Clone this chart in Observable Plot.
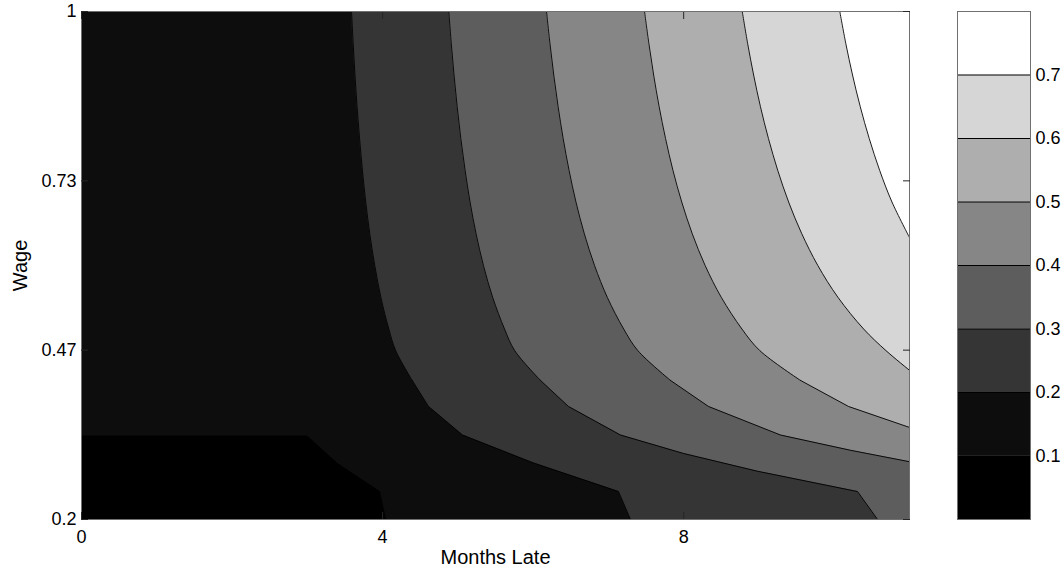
<!DOCTYPE html>
<html><head><meta charset="utf-8">
<script src="https://cdn.jsdelivr.net/npm/d3@7"></script>
<script src="https://cdn.jsdelivr.net/npm/@observablehq/plot@0.6"></script>
<style>
html,body{margin:0;padding:0;background:#fff;}
#wrap{position:relative;width:1062px;height:573px;}
#wrap svg{position:absolute;top:0;}
</style></head><body><div id="wrap"></div>
<script>
// ---- data ----
const xDomain = [0, 11];          // Months Late
const yDomain = [0.2, 1];         // Wage
const xTicks = [0, 4, 8];
const yTicks = [0.2, 0.4667, 0.7333, 1];
const yTickLabels = ["0.2", "0.47", "0.73", "1"];
const levels = [0.1, 0.2, 0.3, 0.4, 0.5, 0.6, 0.7];
const bandEdges = [0, 0.1, 0.2, 0.3, 0.4, 0.5, 0.6, 0.7, 0.8];
const grays = ["#000000", "#0d0d0d", "#353535", "#5d5d5d", "#868686", "#aeaeae", "#d6d6d6", "#ffffff"];

// contour lines, as [months, wage]
const c01 = [[0, 0.331], [3.0, 0.331], [3.40, 0.288], [3.96, 0.244], [4.04, 0.2]];
const c02 = [[7.294, 0.2], [7.134, 0.244], [6.005, 0.289], [5.062, 0.333], [4.610, 0.378], [4.394, 0.419], [4.174, 0.466],
             [4.083, 0.5], [3.977, 0.55], [3.896, 0.6], [3.830, 0.65], [3.776, 0.7], [3.732, 0.75], [3.694, 0.8],
             [3.661, 0.85], [3.633, 0.9], [3.609, 0.95], [3.587, 1.0]];
const c03 = [[10.576, 0.2], [10.31, 0.244], [8.981, 0.276], [7.998, 0.304], [7.161, 0.333], [6.470, 0.378], [6.098, 0.419],
             [5.755, 0.466], [5.620, 0.5], [5.462, 0.55], [5.340, 0.6], [5.242, 0.65], [5.162, 0.7], [5.096, 0.75],
             [5.039, 0.8], [4.991, 0.85], [4.949, 0.9], [4.912, 0.95], [4.880, 1.0]];
const c04 = [[11.0, 0.291], [10.217, 0.309], [9.287, 0.333], [8.330, 0.378], [7.825, 0.419], [7.391, 0.466],
             [7.203, 0.5], [6.985, 0.55], [6.816, 0.6], [6.680, 0.65], [6.569, 0.7], [6.477, 0.75], [6.399, 0.8],
             [6.332, 0.85], [6.274, 0.9], [6.223, 0.95], [6.178, 1.0]];
const c05 = [[11.0, 0.345], [10.190, 0.378], [9.552, 0.419], [9.011, 0.466], [8.774, 0.5], [8.499, 0.55], [8.285, 0.6],
             [8.114, 0.65], [7.974, 0.7], [7.857, 0.75], [7.759, 0.8], [7.674, 0.85], [7.601, 0.9], [7.537, 0.95], [7.480, 1.0]];
const c06 = [[11.0, 0.435], [10.687, 0.466], [10.391, 0.5], [10.049, 0.55], [9.782, 0.6], [9.569, 0.65], [9.394, 0.7],
             [9.249, 0.75], [9.126, 0.8], [9.020, 0.85], [8.929, 0.9], [8.849, 0.95], [8.778, 1.0]];
const c07 = [[11.0, 0.644], [10.767, 0.7], [10.603, 0.75], [10.465, 0.8], [10.346, 0.85], [10.243, 0.9], [10.153, 0.95], [10.074, 1.0]];
const upperContours = [c02, c03, c04, c05, c06, c07];
const splitWage = 0.419;   // below: coarse straight segments, above: smooth curve

// ---- drawing ----
const font = "'Liberation Sans', Arial, Helvetica, sans-serif";
const axisColor = "#262626";
const frameColor = "#707070";
const lowPart = pts => pts.filter(d => d[1] <= splitWage);
const highPart = pts => pts.filter(d => d[1] >= splitWage);

const bandMarks = [];
const lineMarks = [];
upperContours.forEach((pts, i) => {
  const lo = lowPart(pts), hi = highPart(pts);
  if (lo.length > 1) {
    bandMarks.push(Plot.areaX(lo, {x1: d => d[0], x2: xDomain[1], y: d => d[1], fill: grays[i + 2], curve: "linear", clip: true}));
    lineMarks.push(Plot.line(lo, {x: d => d[0], y: d => d[1], stroke: "#000", strokeWidth: 0.9, curve: "linear", clip: true}));
  }
  if (hi.length > 1) {
    bandMarks.push(Plot.areaX(hi, {x1: d => d[0], x2: xDomain[1], y: d => d[1], fill: grays[i + 2], curve: "catmull-rom", clip: true}));
    lineMarks.push(Plot.line(hi, {x: d => d[0], y: d => d[1], stroke: "#000", strokeWidth: 0.9, curve: "catmull-rom", clip: true}));
  }
});

const main = Plot.plot({
  width: 1062, height: 573,
  marginLeft: 81, marginRight: 153, marginTop: 11, marginBottom: 54,
  x: {domain: xDomain},
  y: {domain: yDomain},
  style: {fontFamily: font, fontSize: "18px", color: "#000", background: "transparent"},
  marks: [
    Plot.frame({fill: grays[1], stroke: null}),
    Plot.areaY(c01, {x: d => d[0], y1: yDomain[0], y2: d => d[1], fill: grays[0], clip: true}),
    ...bandMarks,
    Plot.line(c01, {x: d => d[0], y: d => d[1], stroke: "#000", strokeWidth: 0.9, clip: true}),
    ...lineMarks,
    Plot.frame({stroke: frameColor}),
    // inward tick marks on all four sides
    Plot.axisX({anchor: "bottom", ticks: xTicks, tickSize: 7, dy: -7, tickFormat: () => "", label: null, stroke: axisColor}),
    Plot.axisX({anchor: "top", ticks: xTicks, tickSize: 7, dy: 7, tickFormat: () => "", label: null, stroke: axisColor}),
    Plot.axisY({anchor: "left", ticks: yTicks, tickSize: 7, dx: 7, tickFormat: () => "", label: null, stroke: axisColor}),
    Plot.axisY({anchor: "right", ticks: yTicks, tickSize: 7, dx: -7, tickFormat: () => "", label: null, stroke: axisColor}),
    // tick labels and titles
    Plot.axisX({anchor: "bottom", ticks: xTicks, tickSize: 0, tickPadding: 11, tickFormat: d => String(d), label: null}),
    Plot.axisX({anchor: "bottom", ticks: [], tickSize: 0, fontSize: 20,
      label: "Months Late", labelAnchor: "center", labelOffset: 44, labelArrow: "none"}),
    Plot.axisY({anchor: "left", ticks: yTicks, tickSize: 0, tickPadding: 5, tickFormat: (d, i) => yTickLabels[i], label: null}),
    Plot.axisY({anchor: "left", ticks: [], tickSize: 0, fontSize: 20,
      label: "Wage", labelAnchor: "center", labelOffset: 69, labelArrow: "none"})
  ]
});

const bands = grays.map((c, i) => ({lo: bandEdges[i], hi: bandEdges[i + 1], color: c}));
const bar = Plot.plot({
  width: 105, height: 573,
  marginLeft: 0, marginRight: 32, marginTop: 11, marginBottom: 54,
  x: {domain: [0, 1], axis: null},
  y: {domain: [bandEdges[0], bandEdges[bandEdges.length - 1]]},
  color: {type: "identity"},
  style: {fontFamily: font, fontSize: "18px", color: "#000", background: "transparent"},
  marks: [
    Plot.rect(bands, {x1: 0, x2: 1, y1: "lo", y2: "hi", fill: "color"}),
    Plot.ruleY(levels, {x1: 0, x2: 1, stroke: "#000", strokeWidth: 1}),
    Plot.frame({stroke: frameColor}),
    Plot.axisY({anchor: "right", ticks: levels, tickSize: 0, tickPadding: 5, tickFormat: d => String(d), label: null})
  ]
});
bar.style.left = "957px";
const wrap = document.getElementById("wrap");
main.style.left = "0px";
wrap.appendChild(main);
wrap.appendChild(bar);
</script>
</body></html>
